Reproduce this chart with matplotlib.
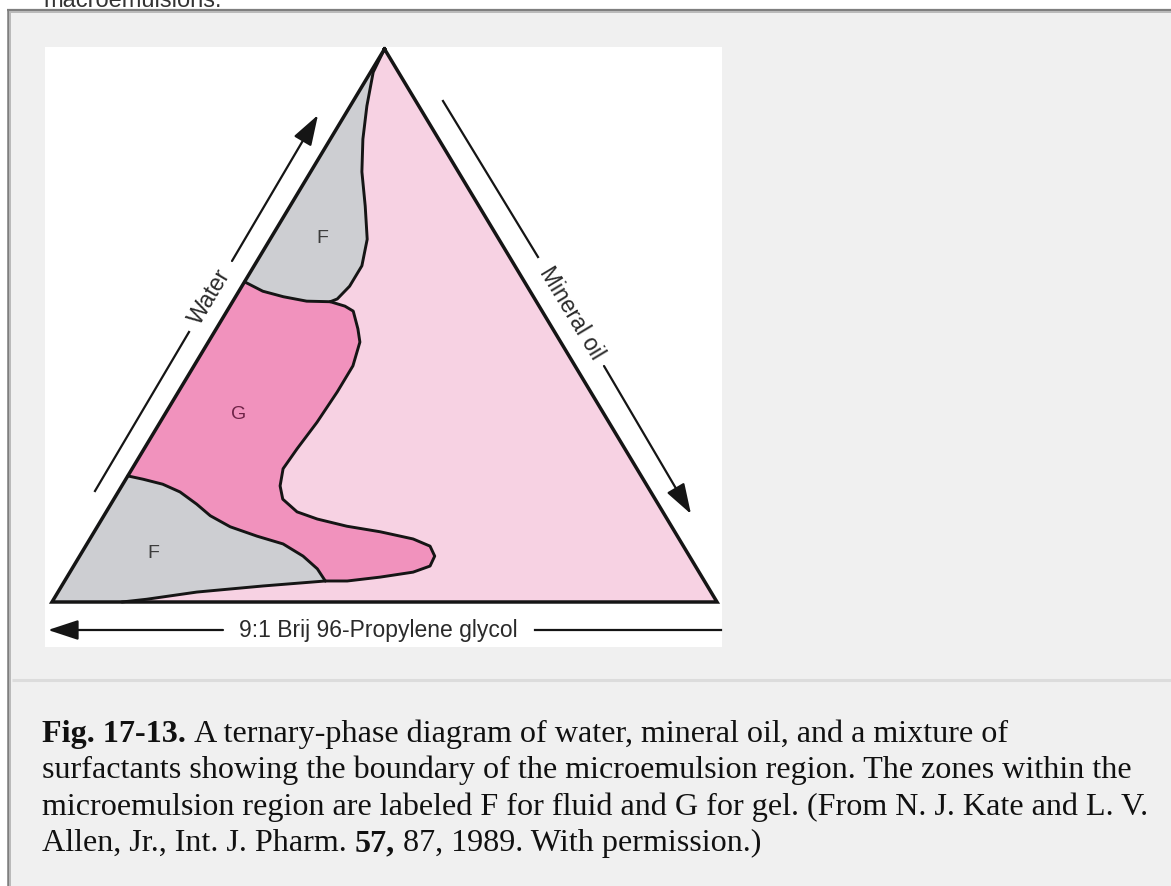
import numpy as np
import matplotlib
matplotlib.use('Agg')
import matplotlib.pyplot as plt
from matplotlib.patches import Rectangle

plt.rcParams['font.family'] = ['Liberation Sans', 'DejaVu Sans']

W, H = 1171, 887

# phase boundaries as % water / % mineral oil (rest is 9:1 Brij 96 - propylene glycol)
# upper fluid zone, boundary running from the water corner down to the gel zone
f_top_water = [100, 95.8, 89.7, 83.7, 77.8, 71.6, 65.6, 60.8, 57.1, 54.8, 54.3]
f_top_oil = [0, 0.4, 2.5, 4.9, 7.7, 11.3, 14.6, 16.2, 16.2, 15.5, 14.7]

# fluid / gel boundary below the upper fluid zone
fg_top_water = [57.9, 56.2, 55.2, 54.4, 54.3]
fg_top_oil = [0, 3.6, 7.2, 11.1, 14.7]

# outer edge of the gel zone
g_water = [54.3, 53.5, 52.6, 49.4, 47.0, 42.7, 38.0, 32.5, 27.7, 24.1, 21.0, 18.6,
           16.3, 15.0, 13.7, 12.7, 11.4, 10.1, 8.3, 6.5, 5.4, 4.5, 3.8, 3.8]
g_oil = [14.7, 17.3, 19.0, 21.3, 22.8, 23.9, 23.9, 23.6, 23.0, 22.7, 23.8, 25.4,
         28.7, 32.4, 37.5, 43.0, 48.6, 51.8, 53.4, 53.6, 51.6, 47.1, 42.5, 39.2]

# lower edge of the fluid zone near the surfactant axis
f_low_water = [3.8, 2.9, 1.8, 0.5, 0]
f_low_oil = [39.2, 30.3, 20.9, 14.0, 10.5]

# fluid / gel boundary above the lower fluid zone
fg_low_water = [22.8, 22.2, 21.3, 19.9, 17.7, 15.6, 13.6, 11.9, 10.5, 8.3, 6.0, 3.8]
fg_low_oil = [0, 2.6, 6.0, 9.3, 12.9, 16.0, 20.0, 24.9, 29.5, 33.6, 36.9, 39.2]

zone_labels = ['F', 'G', 'F']
zone_label_water = [66.0, 34.0, 9.0]
zone_label_oil = [7.6, 11.0, 10.7]

PINK = '#f7d2e3'
GEL = '#f192bd'
FLUID = '#cdced2'
INK = '#151515'


def tern(water, oil):
    """composition (%) -> cartesian, surfactant corner at origin"""
    w = np.asarray(water, dtype=float) / 100.0
    o = np.asarray(oil, dtype=float) / 100.0
    return o + w / 2.0, w


def cat(*parts):
    return np.concatenate([np.asarray(p, dtype=float) for p in parts])


fig = plt.figure(figsize=(W / 100, H / 100), dpi=100)
fig.patch.set_facecolor('white')

# page layer in pixel units
page = fig.add_axes([0, 0, 1, 1])
page.set_xlim(0, W)
page.set_ylim(H, 0)
page.axis('off')

page.add_patch(Rectangle((7, 10), W - 7, H - 10, facecolor='#f0f0f0', edgecolor='none'))
page.plot([7, W], [11, 11], color='#7f7f7f', lw=1.6, solid_capstyle='butt')
page.plot([9, W], [13.2, 13.2], color='#b9b9b9', lw=1.4, solid_capstyle='butt')
page.plot([8, 8], [10, H], color='#7f7f7f', lw=1.8, solid_capstyle='butt')
page.plot([10.3, 10.3], [12, H], color='#b9b9b9', lw=1.4, solid_capstyle='butt')
page.plot([11.5, W], [681, 681], color='#dcdcdc', lw=2.2, solid_capstyle='butt')
page.add_patch(Rectangle((45, 48), 677, 600, facecolor='white', edgecolor='none'))

page.text(43, 7, 'macroemulsions.', fontsize=17, color='#333333', va='baseline', ha='left')

# axis arrows and names around the triangle
arrow_kw = dict(arrowstyle='-|>,head_length=0.85,head_width=0.28', lw=1.6,
                color=INK, mutation_scale=22, shrinkA=0, shrinkB=0)
side_font = dict(fontsize=16.5, color='#2a2a2a', ha='center', va='center',
                 rotation_mode='anchor')

page.plot([95, 189], [492, 333], color=INK, lw=1.6)
page.annotate('', xy=(318, 116), xytext=(232, 262), arrowprops=arrow_kw)
page.text(210, 297, 'Water', rotation=59.1, **side_font)

page.plot([443, 538], [102, 258], color=INK, lw=1.6)
page.annotate('', xy=(691, 515), xytext=(604, 367), arrowprops=arrow_kw)
page.text(571, 313, 'Mineral oil', rotation=-58.9, **side_font)

page.annotate('', xy=(48, 631), xytext=(223, 631), arrowprops=arrow_kw)
page.plot([535, 721], [631, 631], color=INK, lw=1.6)
page.text(378, 631, '9:1 Brij 96-Propylene glycol', **side_font)

# ternary diagram
tx = fig.add_axes([52 / W, 1 - 603 / H, 665 / W, 553 / H])
tx.set_xlim(0, 1)
tx.set_ylim(0, 1)
tx.axis('off')

corner_water = [100, 0, 0]
corner_oil = [0, 100, 0]
tx.fill(*tern(corner_water, corner_oil), facecolor=PINK, edgecolor='none', zorder=1)

# upper fluid zone
uf_w = cat(fg_top_water, f_top_water[::-1])
uf_o = cat(fg_top_oil, f_top_oil[::-1])
tx.fill(*tern(uf_w, uf_o), facecolor=FLUID, edgecolor='none', zorder=2)

# gel zone
g_w = cat(fg_top_water, g_water[1:], fg_low_water[::-1])
g_o = cat(fg_top_oil, g_oil[1:], fg_low_oil[::-1])
tx.fill(*tern(g_w, g_o), facecolor=GEL, edgecolor='none', zorder=2)

# lower fluid zone
lf_w = cat([0], fg_low_water, f_low_water[1:])
lf_o = cat([0], fg_low_oil, f_low_oil[1:])
tx.fill(*tern(lf_w, lf_o), facecolor=FLUID, edgecolor='none', zorder=2)

line_kw = dict(color=INK, lw=2.1, solid_joinstyle='round', solid_capstyle='round',
               zorder=3, clip_on=False)
for wv, ov in [(f_top_water, f_top_oil), (fg_top_water, fg_top_oil),
               (g_water, g_oil), (f_low_water, f_low_oil),
               (fg_low_water, fg_low_oil)]:
    tx.plot(*tern(wv, ov), **line_kw)

ox, oy = tern(corner_water + [100], corner_oil + [0])
tx.plot(ox, oy, color=INK, lw=2.5, solid_joinstyle='miter', zorder=4, clip_on=False)

for lab, wv, ov in zip(zone_labels, zone_label_water, zone_label_oil):
    lx, ly = tern(wv, ov)
    tx.text(lx, ly, lab, fontsize=14, ha='center', va='center',
            color='#6e2347' if lab == 'G' else '#3c3c3c', zorder=5)

# caption, mixing bold and regular runs on a line
caption = [
    [('Fig. 17-13.', 'bold'),
     ('A ternary-phase diagram of water, mineral oil, and a mixture of', 'normal')],
    [('surfactants showing the boundary of the microemulsion region. The zones within the', 'normal')],
    [('microemulsion region are labeled F for fluid and G for gel. (From N. J. Kate and L. V.', 'normal')],
    [('Allen, Jr., Int. J. Pharm.', 'normal'), ('57,', 'bold'),
     ('87, 1989. With permission.)', 'normal')],
]
cap_size = 23.1
space_px = 0.25 * cap_size * 100 / 72
renderer = fig.canvas.get_renderer()
base_y = 742
for i, runs in enumerate(caption):
    x = 42
    y = base_y + i * 36.4
    for s, weight in runs:
        t = page.text(x, y, s, fontsize=cap_size, fontweight=weight,
                      family=['Liberation Serif', 'DejaVu Serif'],
                      color='#111111', ha='left', va='baseline')
        x += t.get_window_extent(renderer).width + space_px

fig.savefig('out.png', dpi=100, facecolor='white')
